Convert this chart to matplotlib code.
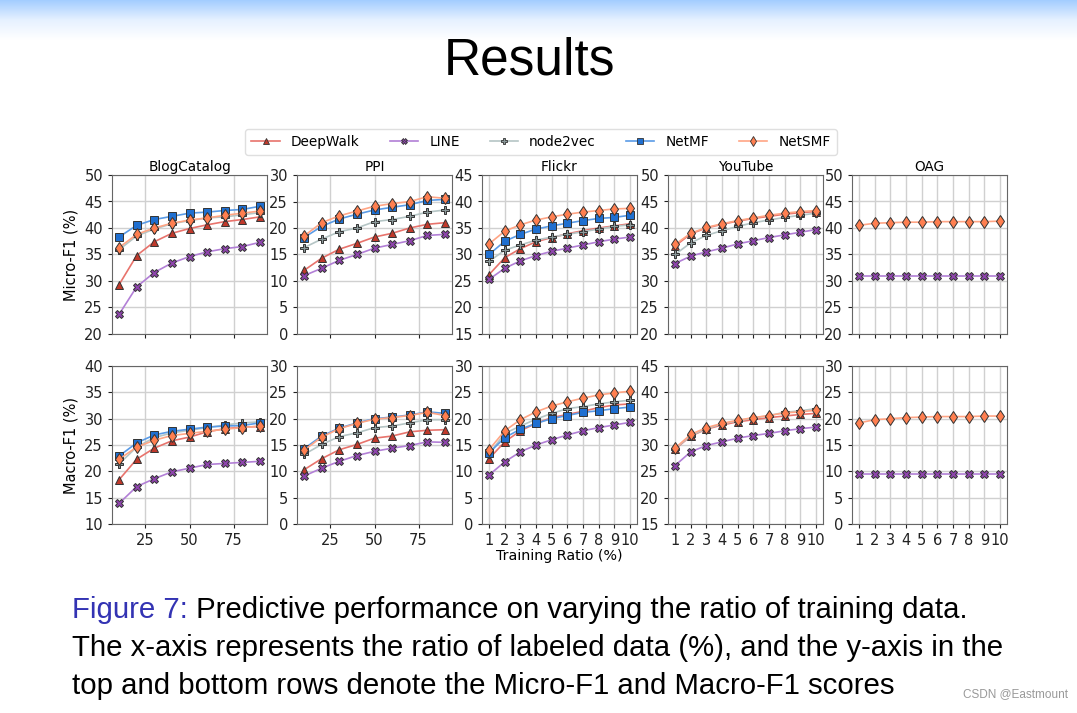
import numpy as np
import matplotlib
matplotlib.use("Agg")
import matplotlib.pyplot as plt
import matplotlib.colors as mcolors
from matplotlib.lines import Line2D

plt.rcParams["font.family"] = ["DejaVu Sans"]

# ---- data ----
methods = ["DeepWalk", "LINE", "node2vec", "NetMF", "NetSMF"]
ratio_big = [10, 20, 30, 40, 50, 60, 70, 80, 90]
ratio_small = [1, 2, 3, 4, 5, 6, 7, 8, 9, 10]

blog_micro = {
    "DeepWalk": [29.3, 34.8, 37.4, 39.0, 39.9, 40.6, 41.2, 41.6, 42.1],
    "LINE":     [23.7, 28.9, 31.6, 33.4, 34.6, 35.5, 36.1, 36.5, 37.3],
    "node2vec": [35.9, 38.5, 39.8, 40.8, 41.4, 41.9, 42.1, 42.5, 42.9],
    "NetMF":    [38.3, 40.5, 41.6, 42.2, 42.8, 43.0, 43.3, 43.5, 44.1],
    "NetSMF":   [36.3, 38.8, 40.0, 40.9, 41.5, 41.9, 42.4, 42.8, 43.2],
}
ppi_micro = {
    "DeepWalk": [12.0, 14.3, 16.0, 17.1, 18.3, 19.0, 20.0, 20.7, 21.0],
    "LINE":     [11.0, 12.4, 13.9, 15.0, 16.2, 16.9, 17.6, 18.6, 18.8],
    "node2vec": [16.3, 17.9, 19.3, 20.0, 21.2, 21.6, 22.2, 23.0, 23.4],
    "NetMF":    [18.2, 20.3, 21.7, 22.6, 23.4, 23.9, 24.4, 25.2, 25.4],
    "NetSMF":   [18.5, 21.0, 22.3, 23.2, 24.1, 24.6, 25.0, 25.9, 25.6],
}
flickr_micro = {
    "DeepWalk": [26.2, 29.4, 31.1, 32.4, 33.2, 33.9, 34.5, 35.0, 35.4, 35.8],
    "LINE":     [25.3, 27.4, 28.8, 29.8, 30.6, 31.2, 31.8, 32.4, 32.9, 33.3],
    "node2vec": [28.7, 30.8, 31.8, 32.7, 33.3, 33.8, 34.3, 34.8, 35.3, 35.6],
    "NetMF":    [30.0, 32.5, 33.8, 34.8, 35.4, 35.9, 36.4, 36.8, 37.0, 37.4],
    "NetSMF":   [32.0, 34.4, 35.6, 36.5, 37.1, 37.6, 38.0, 38.3, 38.6, 38.7],
}
youtube_micro = {
    "DeepWalk": [36.6, 38.9, 40.0, 40.7, 41.3, 41.8, 42.2, 42.6, 42.9, 43.1],
    "LINE":     [33.3, 34.7, 35.5, 36.2, 37.0, 37.6, 38.2, 38.7, 39.2, 39.7],
    "node2vec": [35.0, 37.2, 38.6, 39.5, 40.3, 41.0, 41.5, 42.0, 42.4, 42.8],
    "NetSMF":   [36.9, 39.0, 40.1, 40.8, 41.4, 41.9, 42.4, 42.8, 43.1, 43.3],
}
oag_micro = {
    "LINE":     [31.0, 31.0, 31.0, 31.0, 31.0, 31.0, 31.0, 31.0, 31.0, 31.0],
    "NetSMF":   [40.5, 40.9, 41.0, 41.1, 41.1, 41.2, 41.2, 41.2, 41.2, 41.3],
}

blog_macro = {
    "DeepWalk": [18.4, 22.3, 24.4, 25.8, 26.5, 27.5, 28.1, 28.4, 28.5],
    "LINE":     [13.9, 17.1, 18.6, 19.9, 20.6, 21.3, 21.5, 21.7, 21.9],
    "node2vec": [21.4, 24.6, 26.4, 27.3, 27.8, 28.3, 28.8, 29.2, 29.4],
    "NetMF":    [22.9, 25.4, 26.9, 27.6, 28.0, 28.4, 28.6, 28.7, 29.2],
    "NetSMF":   [22.3, 24.6, 25.9, 26.8, 27.2, 27.6, 28.0, 28.3, 28.6],
}
ppi_macro = {
    "DeepWalk": [10.3, 12.4, 14.1, 15.1, 16.3, 16.7, 17.5, 17.8, 17.9],
    "LINE":     [9.1, 10.6, 11.9, 13.0, 13.8, 14.4, 14.9, 15.6, 15.5],
    "node2vec": [13.2, 15.1, 16.6, 17.3, 18.3, 18.6, 19.2, 19.8, 19.8],
    "NetMF":    [14.3, 16.7, 18.2, 19.2, 20.0, 20.3, 20.7, 21.3, 21.0],
    "NetSMF":   [14.0, 16.5, 18.1, 19.1, 19.9, 20.2, 20.6, 21.2, 20.6],
}
flickr_macro = {
    "DeepWalk": [12.4, 15.6, 17.7, 19.1, 20.2, 20.8, 21.4, 22.1, 22.6, 22.8],
    "LINE":     [9.3, 11.8, 13.7, 15.0, 16.0, 16.9, 17.7, 18.3, 18.8, 19.3],
    "node2vec": [13.3, 17.2, 18.6, 19.9, 21.0, 21.9, 22.3, 22.8, 23.2, 23.5],
    "NetMF":    [13.5, 16.4, 18.0, 19.1, 20.0, 20.6, 21.2, 21.5, 21.9, 22.2],
    "NetSMF":   [14.1, 17.7, 19.8, 21.3, 22.4, 23.2, 23.9, 24.5, 24.9, 25.2],
}
youtube_macro = {
    "DeepWalk": [29.2, 31.7, 33.0, 33.8, 34.4, 34.8, 35.2, 35.5, 35.8, 36.0],
    "LINE":     [26.1, 28.7, 29.9, 30.6, 31.3, 31.8, 32.2, 32.7, 33.1, 33.4],
    "node2vec": [29.3, 31.8, 33.1, 34.0, 34.6, 35.1, 35.6, 36.2, 36.5, 36.9],
    "NetSMF":   [29.4, 32.0, 33.3, 34.1, 34.7, 35.2, 35.6, 36.1, 36.3, 36.6],
}
oag_macro = {
    "LINE":     [9.4, 9.4, 9.4, 9.4, 9.4, 9.4, 9.4, 9.4, 9.4, 9.4],
    "NetSMF":   [19.2, 19.8, 20.0, 20.2, 20.3, 20.4, 20.4, 20.4, 20.5, 20.5],
}

titles = ["BlogCatalog", "PPI", "Flickr", "YouTube", "OAG"]
micro_ylim = [(20, 50), (0, 30), (15, 45), (20, 50), (20, 50)]
macro_ylim = [(10, 40), (0, 30), (0, 30), (15, 45), (0, 30)]

# ---- styles ----
style = {
    "DeepWalk": dict(line="#e8736c", face="#c0392b", marker="^", ms=5.5),
    "LINE":     dict(line="#b27fd6", face="#8e44ad", marker="X", ms=5.5),
    "node2vec": dict(line="#b5c5c5", face="#8a9899", marker="P", ms=6.0),
    "NetMF":    dict(line="#5a9be6", face="#1f6fd0", marker="s", ms=5.5),
    "NetSMF":   dict(line="#ffa585", face="#ff7f50", marker="d", ms=6.5),
}
fs = 9.8

W, H = 1077, 713
fig = plt.figure(figsize=(W / 100, H / 100), dpi=100)

# top gradient band
grad_ax = fig.add_axes([0, 1 - 40 / H, 1, 40 / H])
cmap = mcolors.LinearSegmentedColormap.from_list("band", ["#a3cdff", "#e6f1ff", "#ffffff"])
grad_ax.imshow(np.linspace(0, 1, 100).reshape(-1, 1), aspect="auto", cmap=cmap,
               extent=[0, 1, 0, 1])
grad_ax.axis("off")

fig.text(530 / W, 1 - 61 / H, "Results", ha="center", va="center",
         fontsize=37, family="Liberation Sans")


def draw(ax, xs, series, ylim):
    for m in methods:
        if m not in series:
            continue
        s = style[m]
        ax.plot(xs, series[m], color=s["line"], lw=1.2, marker=s["marker"],
                ms=s["ms"], mfc=s["face"], mec="#333333", mew=0.7)
    ax.set_ylim(*ylim)
    ax.set_yticks(np.arange(ylim[0], ylim[1] + 1, 5))
    ax.grid(True, color="#d0d0d0", lw=1)
    ax.set_axisbelow(True)
    for sp in ax.spines.values():
        sp.set_color("#666666")
    ax.tick_params(labelsize=fs + 0.7, colors="#222222", length=3)


lefts = [112, 297, 482, 668, 852]
aw = 155
top_row = [blog_micro, ppi_micro, flickr_micro, youtube_micro, oag_micro]
bot_row = [blog_macro, ppi_macro, flickr_macro, youtube_macro, oag_macro]

for i in range(5):
    xs = ratio_big if i < 2 else ratio_small
    ax = fig.add_axes([lefts[i] / W, 1 - 334 / H, aw / W, 159 / H])
    draw(ax, xs, top_row[i], micro_ylim[i])
    ax.set_title(titles[i], fontsize=fs, pad=3)
    if i < 2:
        ax.set_xticks([25, 50, 75])
    else:
        ax.set_xticks(ratio_small)
    ax.set_xticklabels([])
    if i == 0:
        ax.set_ylabel("Micro-F1 (%)", fontsize=fs + 0.7)

    ax2 = fig.add_axes([lefts[i] / W, 1 - 524 / H, aw / W, 158 / H])
    draw(ax2, xs, bot_row[i], macro_ylim[i])
    if i < 2:
        ax2.set_xticks([25, 50, 75])
    else:
        ax2.set_xticks(ratio_small)
    if i == 0:
        ax2.set_ylabel("Macro-F1 (%)", fontsize=fs + 0.7)
    if i == 2:
        ax2.set_xlabel("Training Ratio (%)", fontsize=fs + 0.5, labelpad=1)

handles = [Line2D([], [], color=style[m]["line"], lw=1.2, marker=style[m]["marker"],
                  ms=style[m]["ms"] * 0.75, mfc=style[m]["face"], mec="#333333", mew=0.6)
           for m in methods]
fig.legend(handles, methods, loc="center", bbox_to_anchor=(541 / W, 1 - 142 / H),
           ncol=5, fontsize=fs, frameon=True, edgecolor="#d8d8d8",
           columnspacing=2.2, handlelength=2.1, borderpad=0.45)

# caption
cap_font = dict(fontsize=21.2, family="Liberation Sans")
t1 = fig.text(72 / W, 1 - 610 / H, "Figure 7:", color="#3333b3", va="center", **cap_font)
plt.annotate(" Predictive performance on varying the ratio of training data.",
             xy=(1, 0.5), xycoords=t1, va="center", ha="left", color="black",
             annotation_clip=False, **cap_font)
fig.text(72 / W, 1 - 648 / H,
         "The x-axis represents the ratio of labeled data (%), and the y-axis in the",
         va="center", **cap_font)
fig.text(72 / W, 1 - 686 / H,
         "top and bottom rows denote the Micro-F1 and Macro-F1 scores",
         va="center", **cap_font)
fig.text(1068 / W, 1 - 694 / H, "CSDN @Eastmount", ha="right", va="center",
         fontsize=8.5, color="#999999", family="Liberation Sans")

fig.savefig("out.png", dpi=100)
